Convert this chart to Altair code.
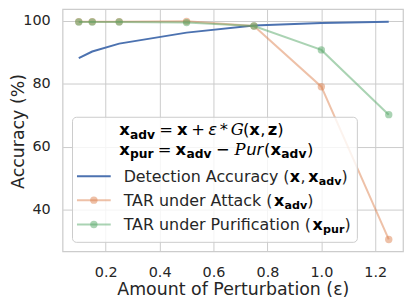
import altair as alt
import pandas as pd

# ---------------- data ----------------
eps = [0.1, 0.15, 0.25, 0.5, 0.75, 1.0, 1.25]
detection_acc = [88.2, 90.3, 92.8, 96.3, 98.6, 99.4, 99.8]
tar_attack = [99.8, 99.8, 99.8, 99.9, 98.4, 79.1, 30.5]
tar_pur = [99.7, 99.7, 99.7, 99.5, 98.4, 90.8, 70.2]
x_ticks = [0.2, 0.4, 0.6, 0.8, 1.0, 1.2]
y_ticks = [40, 60, 80, 100]

BLUE, ORANGE, GREEN = "#4c72b0", "#dd8452", "#55a868"
FONT = "DejaVu Sans"
TXT = "#262626"
W, H = 343, 244

xs = alt.Scale(domain=[0.04, 1.303], nice=False, zero=False)
ys = alt.Scale(domain=[26.74, 103.79], nice=False, zero=False)

x_axis = alt.Axis(values=x_ticks, format=".1f", title="Amount of Perturbation (ε)",
                  grid=True, gridColor="#cccccc", gridWidth=1, ticks=False, tickSize=0,
                  domain=False, labelFont=FONT, labelFontSize=14.5, labelColor=TXT,
                  labelBaseline="alphabetic", labelPadding=25.5,
                  titleFont=FONT, titleFontSize=17.5, titleFontWeight="normal",
                  titleColor=TXT, titleBaseline="alphabetic", titleX=W / 2, titleY=43.5,
                  titleAlign="center")
y_axis = alt.Axis(values=y_ticks, format="d", title="Accuracy (%)",
                  grid=True, gridColor="#cccccc", gridWidth=1, ticks=False, tickSize=0,
                  domain=False, labelFont=FONT, labelFontSize=14.5, labelColor=TXT,
                  labelPadding=12.5,
                  titleFont=FONT, titleFontSize=17.5, titleFontWeight="normal",
                  titleColor=TXT, titleBaseline="alphabetic", titleAngle=270,
                  titleX=-39.5, titleY=122.8, titleAlign="center")


def series(vals):
    return alt.Chart(pd.DataFrame({"eps": eps, "acc": vals}))


def enc(c):
    return c.encode(x=alt.X("eps:Q", scale=xs, axis=x_axis),
                    y=alt.Y("acc:Q", scale=ys, axis=y_axis))


layers = [
    enc(series(detection_acc).mark_line(color=BLUE, strokeWidth=2)),
    enc(series(tar_attack).mark_line(color=ORANGE, strokeWidth=2, opacity=0.5)),
    enc(series(tar_attack).mark_circle(color=ORANGE, size=55, opacity=0.5)),
    enc(series(tar_pur).mark_line(color=GREEN, strokeWidth=2, opacity=0.5)),
    enc(series(tar_pur).mark_circle(color=GREEN, size=55, opacity=0.5)),
]

# ---------------- custom legend ----------------
one = alt.Data(values=[{"k": 0}])
OX, OY = 63, 8  # plot origin on the page


def P(px, py):
    return px - OX, py - OY


bx0, by0 = P(73, 117)
bx1, by1 = P(360, 243)
layers.append(alt.Chart(one).mark_rect(fill="white", fillOpacity=0.8, stroke="#cccccc",
                                       strokeWidth=1, cornerRadius=4)
              .encode(x=alt.value(bx0), x2=alt.value(bx1), y=alt.value(by0), y2=alt.value(by1)))

REG = {' ': .318, '(': .390, ')': .390, ',': .318, 'A': .684, 'D': .770, 'P': .603,
       'R': .695, 'T': .611, 'a': .613, 'c': .550, 'd': .635, 'e': .615, 'f': .352,
       'i': .278, 'k': .579, 'n': .634, 'o': .612, 'p': .635, 'r': .411, 't': .392,
       'u': .634, 'y': .592, '=': .838, '+': .838, '−': .838, '*': .5, 'ε': .541,
       'l': .278, 's': .521, 'b': .635}
BOLD = {'x': .663, 'z': .580, 'a': .675, 'd': .716, 'v': .652, 'p': .716, 'u': .712,
        'r': .493}
CAL = {'G': .70, 'P': .70}


def width(s, kind, size):
    tab = BOLD if kind == "bold" else (CAL if kind == "cal" else REG)
    return sum(tab.get(c, 0.62) for c in s) * size


def run(pieces, x0, y0, fs):
    """pieces: (text, kind, scale, dy, gap_before_em, gap_after_em)"""
    out = []
    x = x0
    for s, kind, sc, dy, g0, g1 in pieces:
        size = fs * sc
        x += g0 * fs
        kw = dict(align="left", baseline="alphabetic", font=FONT, fontSize=size,
                  color="#000000" if kind != "label" else TXT, text=s)
        if kind == "bold":
            kw["fontWeight"] = "bold"
        if kind in ("ital", "cal"):
            kw["fontStyle"] = "italic"
        if kind == "cal":
            kw["font"] = "DejaVu Serif"
        out.append(alt.Chart(one).mark_text(**kw).encode(x=alt.value(x), y=alt.value(y0 + dy)))
        x += width(s, kind, size) + g1 * fs
    return out


FS_T = 16.5
SUB = 0.75
DY = 3.4
tx, ty1 = P(120, 135)
_, ty2 = P(120, 155)
line1 = [("x", "bold", 1, 0, 0, 0), ("adv", "bold", SUB, DY, 0, 0),
         ("=", "reg", 1, 0, .25, .25), ("x", "bold", 1, 0, 0, 0),
         ("+", "reg", 1, 0, .2, .2), ("ε", "ital", 1, 0, 0, 0),
         ("*", "reg", 1, 0, .17, .17), ("G", "cal", 1, 0, 0, 0),
         ("(", "reg", 1, 0, .04, 0), ("x", "bold", 1, 0, 0, 0), (",", "reg", 1, 0, 0, .14),
         ("z", "bold", 1, 0, 0, 0), (")", "reg", 1, 0, 0, 0)]
line2 = [("x", "bold", 1, 0, 0, 0), ("pur", "bold", SUB, DY, 0, 0),
         ("=", "reg", 1, 0, .25, .25), ("x", "bold", 1, 0, 0, 0), ("adv", "bold", SUB, DY, 0, 0),
         ("−", "reg", 1, 0, .28, .28), ("P", "cal", 1, 0, 0, 0), ("ur", "ital", 1, 0, .02, 0),
         ("(", "reg", 1, 0, .05, 0), ("x", "bold", 1, 0, 0, 0), ("adv", "bold", SUB, DY, 0, 0),
         (")", "reg", 1, 0, .03, 0)]
layers += run(line1, tx, ty1, FS_T)
layers += run(line2, tx, ty2, FS_T)

FS_L = 16
SUB_L = 0.7
hx0, _ = P(77.5, 0)
hx1, _ = P(111.5, 0)
mx, _ = P(94.5, 0)
lx, _ = P(124.5, 0)
rows = [P(0, 176.5)[1], P(0, 200.5)[1], P(0, 225)[1]]

layers.append(alt.Chart(one).mark_rule(color=BLUE, strokeWidth=2)
              .encode(x=alt.value(hx0), x2=alt.value(hx1), y=alt.value(rows[0])))
for r, col in [(rows[1], ORANGE), (rows[2], GREEN)]:
    layers.append(alt.Chart(one).mark_rule(color=col, strokeWidth=2, opacity=0.5)
                  .encode(x=alt.value(hx0), x2=alt.value(hx1), y=alt.value(r)))
    layers.append(alt.Chart(one).mark_circle(color=col, size=55, opacity=0.5)
                  .encode(x=alt.value(mx), y=alt.value(r)))

lab1 = [("Detection Accuracy (", "label", 1, 0, 0, 0), ("x", "bold", 1, 0, 0, 0),
        (",", "label", 1, 0, 0, .17), ("x", "bold", 1, 0, 0, 0),
        ("adv", "bold", SUB_L, DY, 0, 0), (")", "label", 1, 0, 0, 0)]
lab2 = [("TAR under Attack (", "label", 1, 0, 0, 0), ("x", "bold", 1, 0, 0, 0),
        ("adv", "bold", SUB_L, DY, 0, 0), (")", "label", 1, 0, 0, 0)]
lab3 = [("TAR under Purification (", "label", 1, 0, 0, 0), ("x", "bold", 1, 0, 0, 0),
        ("pur", "bold", SUB_L, DY, 0, 0), (")", "label", 1, 0, 0, 0)]
for lab, r in zip([lab1, lab2, lab3], rows):
    layers += run(lab, lx, r + 5.5, FS_L)

chart = alt.layer(*layers).properties(
    width=W, height=H,
    autosize=alt.AutoSizeParams(type="none"),
    padding={"left": 55, "top": 0, "right": 4, "bottom": 49},
    background="white",
).configure_view(stroke="#cccccc", strokeWidth=1.25)

chart.save("out.html", embed_options={"renderer": "svg", "actions": False})
